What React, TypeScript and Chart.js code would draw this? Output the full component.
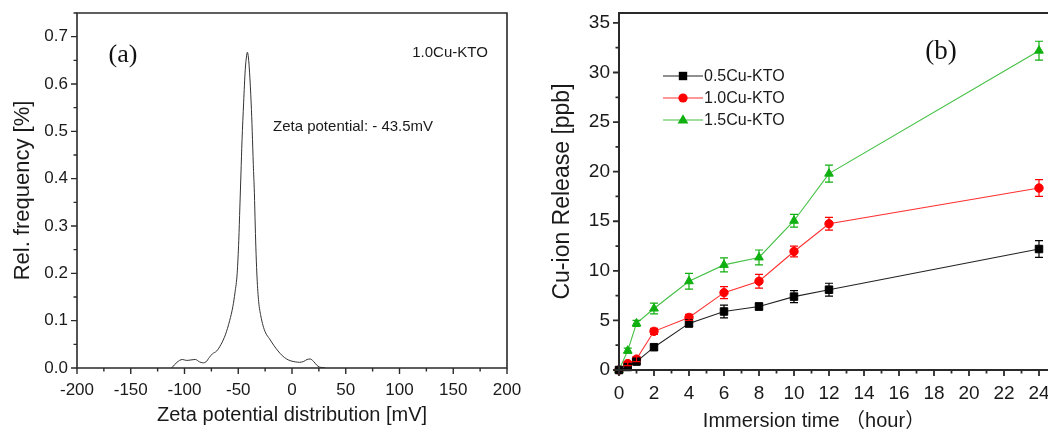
import React, { useEffect, useRef } from 'react';
import { Chart, registerables } from 'chart.js';

Chart.register(...registerables);

const FONT = "'Liberation Sans', Arial, 'Noto Sans CJK SC', sans-serif";
const SERIF = "'Liberation Serif', 'Times New Roman', serif";
const TEXT = '#1a1a1a';

// ---- Panel (a): zeta potential distribution ----
const zetaMv = [-112, -107, -102, -98, -94, -90, -86, -83, -80, -77, -74, -70, -66, -62, -58, -55, -53, -51, -49.5, -48.5, -47.5, -46.5, -45, -43.5, -42.5, -41.5, -40.5, -39.5, -38, -37, -36, -35, -34.2, -33.4, -32.5, -31, -29, -27, -24.5, -21, -17, -13, -9, -5, -1, 3, 7, 11, 14, 17, 20, 23, 25.5, 28, 31];
const zetaFreq = [0, 0.012, 0.018, 0.016, 0.017, 0.018, 0.013, 0.011, 0.013, 0.022, 0.03, 0.036, 0.05, 0.07, 0.1, 0.13, 0.16, 0.2, 0.27, 0.34, 0.41, 0.48, 0.56, 0.63, 0.655, 0.667, 0.655, 0.625, 0.56, 0.5, 0.43, 0.37, 0.3, 0.24, 0.19, 0.14, 0.11, 0.09, 0.074, 0.062, 0.048, 0.036, 0.026, 0.019, 0.015, 0.013, 0.012, 0.014, 0.018, 0.019, 0.014, 0.006, 0.002, 0.001, 0];
const zetaSample = '1.0Cu-KTO';
const zetaNote = 'Zeta potential: - 43.5mV';

// ---- Panel (b): Cu-ion release ----
const timeHours = [0, 0.5, 1, 2, 4, 6, 8, 10, 12, 24];
const cu05 = [0, 0.3, 0.85, 2.3, 4.7, 5.9, 6.4, 7.4, 8.1, 12.2];
const cu05Err = [0, 0.2, 0.2, 0.25, 0.35, 0.65, 0.35, 0.6, 0.65, 0.85];
const cu10 = [0, 0.65, 1.1, 3.9, 5.3, 7.8, 8.95, 11.95, 14.75, 18.35];
const cu10Err = [0, 0.2, 0.25, 0.3, 0.3, 0.6, 0.7, 0.55, 0.65, 0.85];
const cu15 = [0, 1.95, 4.7, 6.2, 8.95, 10.6, 11.35, 15.05, 19.8, 32.2];
const cu15Err = [0, 0.25, 0.3, 0.55, 0.8, 0.7, 0.75, 0.65, 0.85, 0.95];
const seriesNames = ['0.5Cu-KTO', '1.0Cu-KTO', '1.5Cu-KTO'];
const lineColors = ['#222222', '#ff3030', '#44c044'];
const markColors = ['#000000', '#ff0000', '#10b010'];
const markStyles = ['rect', 'circle', 'triangle'];

function fixFit(size: 'width' | 'height', v: number) {
  return (s: any) => {
    s[size] = v;
    s.paddingTop = 0;
    s.paddingBottom = 0;
    s.paddingLeft = 0;
    s.paddingRight = 0;
  };
}

function axesPlugin(c: { xMin: number; xMax: number; xMinor: number; xMajor: number; yMin: number; yMax: number; yMinor: number; yMajor: number; lw: number }) {
  return {
    id: 'axesFrame',
    afterDraw(chart: any) {
      const { ctx, chartArea: a, scales } = chart;
      const xs = scales.x;
      const ys = scales.y;
      ctx.save();
      ctx.strokeStyle = '#2a2a2a';
      ctx.lineWidth = c.lw;
      ctx.beginPath();
      ctx.rect(a.left, a.top, a.right - a.left, a.bottom - a.top);
      ctx.stroke();
      ctx.lineWidth = c.lw - 0.2;
      ctx.beginPath();
      const isMajor = (v: number, m: number) => Math.abs(v / m - Math.round(v / m)) < 1e-6;
      const nx = Math.round((c.xMax - c.xMin) / c.xMinor);
      for (let i = 0; i <= nx; i++) {
        const v = c.xMin + i * c.xMinor;
        const px = xs.getPixelForValue(v);
        ctx.moveTo(px, a.bottom);
        ctx.lineTo(px, a.bottom + (isMajor(v, c.xMajor) ? 6 : 3.5));
      }
      const ny = Math.round((c.yMax - c.yMin) / c.yMinor);
      for (let i = 0; i <= ny; i++) {
        const v = c.yMin + i * c.yMinor;
        const py = ys.getPixelForValue(v);
        ctx.moveTo(a.left, py);
        ctx.lineTo(a.left - (isMajor(v, c.yMajor) ? 6 : 3.5), py);
      }
      ctx.stroke();
      ctx.restore();
    },
  };
}

function drawMarker(ctx: CanvasRenderingContext2D, style: string, x: number, y: number, s: number, color: string) {
  ctx.fillStyle = color;
  ctx.beginPath();
  if (style === 'rect') {
    ctx.rect(x - s, y - s, 2 * s, 2 * s);
  } else if (style === 'circle') {
    ctx.arc(x, y, s * 1.1, 0, Math.PI * 2);
  } else {
    const r = s * 1.35;
    ctx.moveTo(x, y - r);
    ctx.lineTo(x + r * 0.95, y + r * 0.6);
    ctx.lineTo(x - r * 0.95, y + r * 0.6);
    ctx.closePath();
  }
  ctx.fill();
}

const errorBarPlugin = {
  id: 'errorBars',
  afterDatasetsDraw(chart: any) {
    const { ctx } = chart;
    const ys = chart.scales.y;
    chart.data.datasets.forEach((ds: any, i: number) => {
      const meta = chart.getDatasetMeta(i);
      const errs: number[] = ds.errors || [];
      ctx.save();
      ctx.strokeStyle = ds.pointBackgroundColor;
      ctx.lineWidth = 1.2;
      meta.data.forEach((pt: any, j: number) => {
        const e = errs[j];
        if (!e) return;
        const v = ds.data[j].y;
        const top = ys.getPixelForValue(v + e);
        const bot = ys.getPixelForValue(v - e);
        ctx.beginPath();
        ctx.moveTo(pt.x, top);
        ctx.lineTo(pt.x, bot);
        ctx.moveTo(pt.x - 4, top);
        ctx.lineTo(pt.x + 4, top);
        ctx.moveTo(pt.x - 4, bot);
        ctx.lineTo(pt.x + 4, bot);
        ctx.stroke();
      });
      ctx.restore();
    });
  },
};

const rightDecorPlugin = {
  id: 'rightDecor',
  afterDraw(chart: any) {
    const { ctx } = chart;
    ctx.save();
    // legend
    const rows = [76, 98, 120];
    seriesNames.forEach((name, i) => {
      const y = rows[i];
      ctx.strokeStyle = lineColors[i];
      ctx.lineWidth = 1.2;
      ctx.beginPath();
      ctx.moveTo(133, y);
      ctx.lineTo(173, y);
      ctx.stroke();
      drawMarker(ctx, markStyles[i], 153, y, 4.2, markColors[i]);
      ctx.fillStyle = TEXT;
      ctx.font = `16px ${FONT}`;
      ctx.textAlign = 'left';
      ctx.textBaseline = 'middle';
      ctx.fillText(name, 174, y + 1);
    });
    // panel label
    ctx.font = `27px ${SERIF}`;
    ctx.textAlign = 'center';
    ctx.textBaseline = 'middle';
    ctx.fillStyle = '#111';
    ctx.fillText('(b)', 411, 52);
    // x title
    ctx.font = `20px ${FONT}`;
    ctx.fillStyle = TEXT;
    ctx.fillText('Immersion time （hour）', 284, 421);
    ctx.restore();
  },
};

const leftDecorPlugin = {
  id: 'leftDecor',
  afterDraw(chart: any) {
    const { ctx } = chart;
    ctx.save();
    ctx.fillStyle = '#111';
    ctx.textBaseline = 'middle';
    ctx.textAlign = 'center';
    ctx.font = `26px ${SERIF}`;
    ctx.fillText('(a)', 123, 55);
    ctx.font = `15px ${FONT}`;
    ctx.fillStyle = TEXT;
    ctx.fillText(zetaSample, 450, 53);
    ctx.textAlign = 'left';
    ctx.fillText(zetaNote, 273, 127);
    ctx.restore();
  },
};

export default function App() {
  const leftRef = useRef<HTMLCanvasElement>(null);
  const rightRef = useRef<HTMLCanvasElement>(null);

  useEffect(() => {
    const left = new Chart(leftRef.current as HTMLCanvasElement, {
      type: 'line',
      data: {
        datasets: [
          {
            data: zetaMv.map((x, i) => ({ x, y: zetaFreq[i] })),
            borderColor: '#333',
            borderWidth: 1,
            pointRadius: 0,
            cubicInterpolationMode: 'monotone',
            fill: false,
          },
        ],
      },
      options: {
        animation: false,
        responsive: false,
        devicePixelRatio: 1,
        layout: { padding: { left: 0, top: 13, right: 23, bottom: 0 } },
        plugins: { legend: { display: false }, tooltip: { enabled: false } },
        scales: {
          x: {
            type: 'linear',
            min: -200,
            max: 200,
            afterFit: fixFit('height', 68),
            grid: { display: false, drawTicks: false },
            border: { display: false },
            ticks: { stepSize: 50, includeBounds: false, padding: 12, maxRotation: 0, autoSkip: false, color: TEXT, font: { size: 17, family: FONT } },
            title: { display: true, text: 'Zeta potential distribution [mV]', color: TEXT, font: { size: 20, family: FONT }, padding: { top: 0, bottom: 9 } },
          },
          y: {
            type: 'linear',
            min: 0,
            max: 0.75,
            afterFit: fixFit('width', 77),
            grid: { display: false, drawTicks: false },
            border: { display: false },
            ticks: { stepSize: 0.1, includeBounds: false, padding: 9, color: TEXT, font: { size: 17, family: FONT }, callback: (v: any) => Number(v).toFixed(1) },
            title: { display: true, text: 'Rel. frequency [%]', color: TEXT, font: { size: 22, family: FONT }, padding: { top: 10, bottom: 0 } },
          },
        },
      } as any,
      plugins: [axesPlugin({ xMin: -200, xMax: 200, xMinor: 25, xMajor: 50, yMin: 0, yMax: 0.75, yMinor: 0.05, yMajor: 0.1, lw: 1.6 }), leftDecorPlugin],
    });

    const series = [cu05, cu10, cu15];
    const errs = [cu05Err, cu10Err, cu15Err];
    const radii = [5.3, 4.2, 5];
    const right = new Chart(rightRef.current as HTMLCanvasElement, {
      type: 'line',
      data: {
        datasets: series.map((s, i) => ({
          label: seriesNames[i],
          data: timeHours.map((t, j) => ({ x: t, y: s[j] })),
          errors: errs[i],
          borderColor: lineColors[i],
          borderWidth: 1.1,
          pointStyle: markStyles[i],
          pointRadius: radii[i],
          pointBackgroundColor: markColors[i],
          pointBorderColor: markColors[i],
          pointBorderWidth: 1,
          tension: 0,
          clip: false,
          fill: false,
        })),
      },
      options: {
        animation: false,
        responsive: false,
        devicePixelRatio: 1,
        layout: { padding: { left: 0, top: 13, right: 43.5, bottom: 0 } },
        plugins: { legend: { display: false }, tooltip: { enabled: false } },
        scales: {
          x: {
            type: 'linear',
            min: 0,
            max: 25,
            afterFit: fixFit('height', 66),
            grid: { display: false, drawTicks: false },
            border: { display: false },
            ticks: { stepSize: 2, includeBounds: false, padding: 12, maxRotation: 0, autoSkip: false, color: TEXT, font: { size: 19, family: FONT } },
            title: { display: false },
          },
          y: {
            type: 'linear',
            min: 0,
            max: 36,
            afterFit: fixFit('width', 89),
            grid: { display: false, drawTicks: false },
            border: { display: false },
            ticks: { stepSize: 5, includeBounds: false, padding: 9, color: TEXT, font: { size: 19, family: FONT } },
            title: { display: true, text: 'Cu-ion Release [ppb]', color: TEXT, font: { size: 23, family: FONT }, padding: { top: 19, bottom: 0 } },
          },
        },
      } as any,
      plugins: [errorBarPlugin, axesPlugin({ xMin: 0, xMax: 25, xMinor: 1, xMajor: 2, yMin: 0, yMax: 36, yMinor: 2.5, yMajor: 5, lw: 2 }), rightDecorPlugin],
    });

    return () => {
      left.destroy();
      right.destroy();
    };
  }, []);

  return (
    <div style={{ position: 'absolute', left: 0, top: 0, width: 1048, height: 436, overflow: 'hidden', background: '#fff' }}>
      <canvas ref={leftRef} width={530} height={436} style={{ position: 'absolute', left: 0, top: 0 }} />
      <canvas ref={rightRef} width={570} height={436} style={{ position: 'absolute', left: 530, top: 0 }} />
    </div>
  );
}
